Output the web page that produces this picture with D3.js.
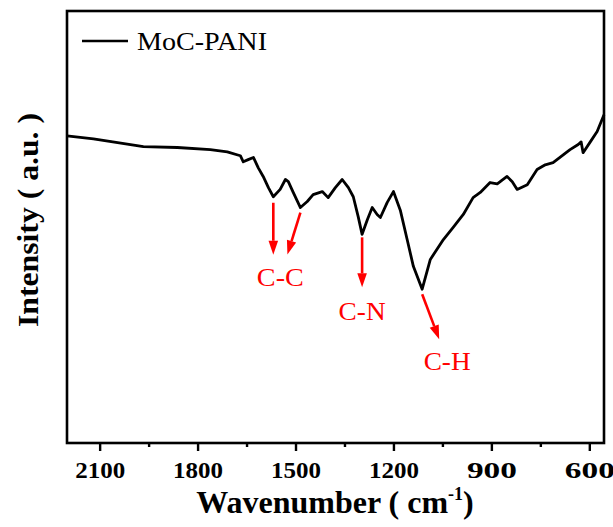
<!DOCTYPE html>
<html><head><meta charset="utf-8">
<script src="https://cdn.jsdelivr.net/npm/d3@7/dist/d3.min.js"></script>
<style>body{margin:0;background:#fff}svg{display:block}</style>
</head><body>
<svg id="chart" width="613" height="527"></svg>
<script>
// ---- data ----
const wavenumber = [2200,2119,1966,1862,1761,1709,1669,1660,1645,1629,1614,1599,1583,1568,1547,1531,1522,1507,1485,1464,1446,1418,1400,1378,1357,1338,1323,1308,1296,1280,1265,1250,1240,1219,1200,1179,1158,1139,1112,1087,1047,1017,986,956,934,904,882,852,836,821,790,760,735,711,680,659,634,625,619,597,576,555];
const intensity  = [71.1,70.4,68.6,68.4,67.9,67.4,66.5,65.1,65.6,66.1,63.7,61.7,59.1,57.0,58.7,61.0,60.5,58.0,54.5,55.9,57.5,58.2,56.8,59.1,61.0,59.1,57.0,52.4,48.3,51.7,54.5,52.9,52.2,55.7,58.2,53.9,47.1,40.9,35.6,42.5,47.1,49.9,52.9,56.8,58.0,60.3,60.0,61.7,60.5,58.7,59.8,63.3,64.4,64.9,66.7,67.9,69.1,69.7,67.2,69.7,72.1,76.0];
const xTickValues = [2100,1800,1500,1200,900,600];
const xMinorTicks = [1950,1650,1350,1050,750];
const seriesName = "MoC-PANI";
const peakLabels = ["C-C","C-N","C-H"];
const peakWavenumbers = [[1568,1485],[1296],[1112]];
const xTitle = "Wavenumber ( cm";
const yTitle = "Intensity ( a.u. )";

// ---- layout ----
const svg = d3.select("#chart");
const L = 67, R = 604, T = 11, B = 443;
const font = "'Liberation Serif','Times New Roman',Times,serif";
const x = d3.scaleLinear().domain([2200, 555]).range([L, R]);
const y = d3.scaleLinear().domain([0, 100]).range([B, T]);

// curve
const pts = wavenumber.map((w,i)=>[w,intensity[i]]);
svg.append("path").datum(pts)
  .attr("d", d3.line().x(d=>x(d[0])).y(d=>y(d[1])))
  .attr("fill","none").attr("stroke","#000").attr("stroke-width",2.8)
  .attr("stroke-linejoin","round");

// frame
svg.append("rect").attr("x",L).attr("y",T).attr("width",R-L).attr("height",B-T)
  .attr("fill","none").attr("stroke","#000").attr("stroke-width",2.6);

// x axis
const gx = svg.append("g").attr("transform",`translate(0,${B})`)
  .call(d3.axisBottom(x).tickValues(xTickValues).tickSize(8).tickPadding(11).tickFormat(d3.format("d")));
gx.select(".domain").remove();
gx.selectAll("line").attr("stroke-width",2.4);
gx.selectAll("text").attr("font-family",font).attr("font-weight","bold")
  .attr("font-size",23).attr("fill","#000").attr("textLength",50).attr("lengthAdjust","spacingAndGlyphs");
const gm = svg.append("g").attr("transform",`translate(0,${B})`)
  .call(d3.axisBottom(x).tickValues(xMinorTicks).tickSize(4).tickFormat(""));
gm.select(".domain").remove();
gm.selectAll("line").attr("stroke-width",2.4);

// x title
const xt = svg.append("text").attr("x",335).attr("y",513).attr("text-anchor","middle")
  .attr("font-family",font).attr("font-weight","bold").attr("font-size",32).attr("fill","#000");
xt.append("tspan").text(xTitle);
xt.append("tspan").attr("font-size",18).attr("dy",-13).text("-1");
xt.append("tspan").attr("dy",13).text(")");

// y title
svg.append("text").attr("transform","translate(38,220) rotate(-90)").attr("text-anchor","middle")
  .attr("font-family",font).attr("font-weight","bold").attr("font-size",30).attr("fill","#000")
  .attr("textLength",214).attr("lengthAdjust","spacingAndGlyphs").text(yTitle);

// legend
svg.append("line").attr("x1",82).attr("x2",128).attr("y1",41).attr("y2",41)
  .attr("stroke","#000").attr("stroke-width",2.6);
svg.append("text").attr("x",137).attr("y",50).attr("font-family",font).attr("font-size",25)
  .attr("fill","#000").attr("textLength",130).attr("lengthAdjust","spacingAndGlyphs").text(seriesName);

// annotations
const red = "#ff0000";
function valAt(w){ const i = wavenumber.indexOf(w); return intensity[i]; }
function arrow(x1,y1,x2,y2){
  const a = Math.atan2(y2-y1,x2-x1), hl = 14, hw = 4.8;
  const bx = x2 - hl*Math.cos(a), by = y2 - hl*Math.sin(a);
  svg.append("line").attr("x1",x1).attr("y1",y1).attr("x2",bx).attr("y2",by)
    .attr("stroke",red).attr("stroke-width",2.6);
  const px = -Math.sin(a), py = Math.cos(a);
  svg.append("polygon").attr("points",
    [[x2,y2],[bx+px*hw,by+py*hw],[bx-px*hw,by-py*hw]].map(p=>p.join(",")).join(" "))
    .attr("fill",red);
}
function label(t,cx,by){
  svg.append("text").attr("x",cx).attr("y",by).attr("text-anchor","middle")
    .attr("font-family",font).attr("font-size",25).attr("fill",red)
    .attr("textLength",47).attr("lengthAdjust","spacingAndGlyphs").text(t);
}
// C-C
{
  const w1 = peakWavenumbers[0][0], w2 = peakWavenumbers[0][1];
  const x1 = x(w1), y1 = y(valAt(w1));
  arrow(x1, y1+6, x1, y1+58);
  const x2 = x(w2), y2 = y(valAt(w2));
  arrow(x2, y2+5, x2-13, y2+47);
  label(peakLabels[0], (x1+x2-13)/2, 286);
}
// C-N
{
  const w = peakWavenumbers[1][0], xx = x(w), yy = y(valAt(w));
  arrow(xx, yy+3, xx, yy+53);
  label(peakLabels[1], xx, yy+86);
}
// C-H
{
  const w = peakWavenumbers[2][0], xx = x(w), yy = y(valAt(w));
  arrow(xx, yy+5, xx+17, yy+50);
  label(peakLabels[2], xx+25, yy+81);
}
</script>
</body></html>
